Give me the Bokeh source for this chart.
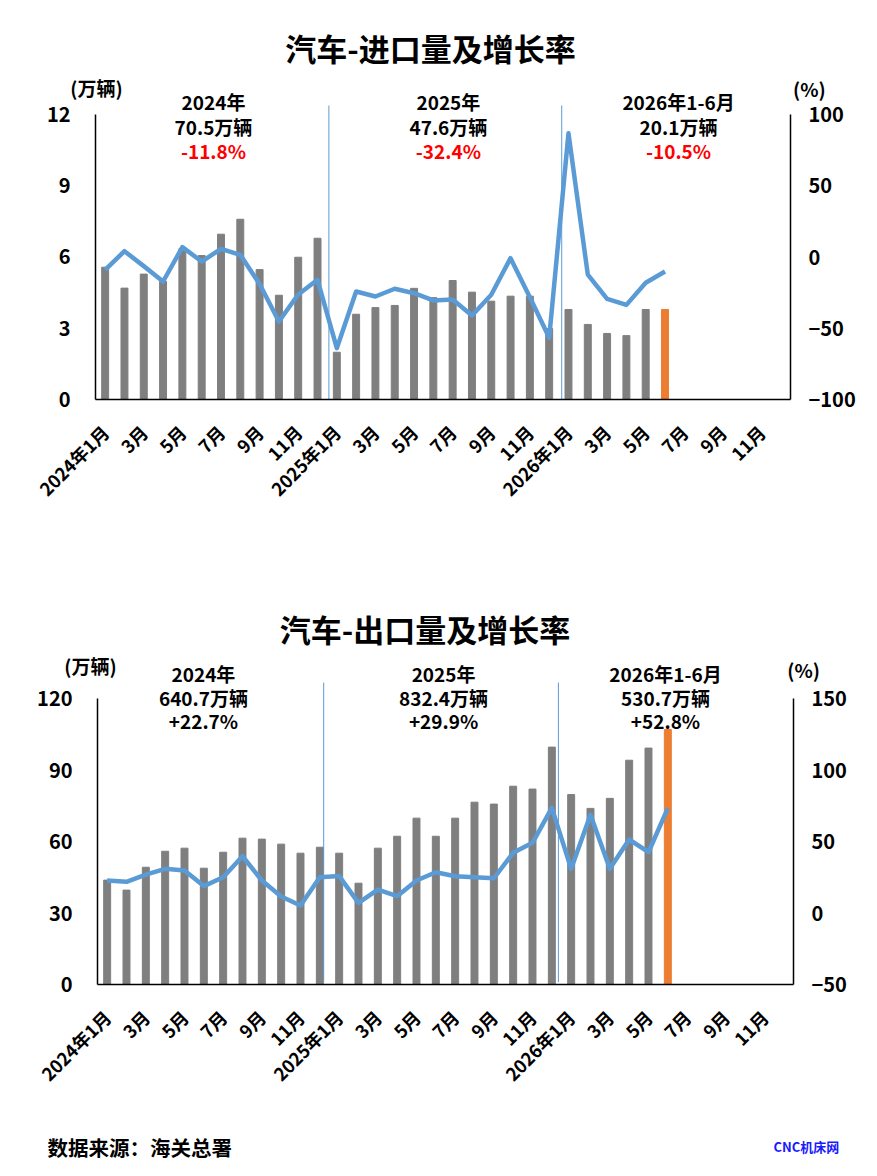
import math

from bokeh.embed import file_html
from bokeh.layouts import column
from bokeh.models import (ColumnDataSource, FixedTicker, Label, LinearAxis,
                          Range1d)
from bokeh.plotting import figure
from bokeh.resources import INLINE

FONT = "Noto Sans CJK SC"
BAR_GREY = "#7f7f7f"
BAR_ORANGE = "#ed7d31"
LINE_BLUE = "#5b9bd5"

# Month labels, 2024-01 .. 2026-12 (every other month is shown)
years = [2024, 2025, 2026]
months = [f"{y}年1月" if m == 1 else f"{m}月" for y in years for m in range(1, 13)]

# Imports: volume (万辆) and year-on-year growth (%)
imp_volume = [5.57, 4.69, 5.28, 4.97, 6.35, 6.06, 6.96, 7.59, 5.47, 4.39, 5.99, 6.79,
              1.99, 3.59, 3.87, 3.96, 4.68, 4.29, 5.01, 4.52, 4.14, 4.35, 4.35, 2.99,
              3.79, 3.16, 2.78, 2.69, 3.79, 3.79]
imp_yoy = [-9.0, 4.1, -6.4, -17.2, 6.9, -3.2, 5.7, 1.5, -19.0, -45.3, -26.3, -16.0,
           -64.0, -24.2, -27.7, -22.3, -25.4, -30.5, -29.8, -41.0, -26.5, -0.8, -28.2, -56.7,
           86.8, -12.3, -29.4, -33.6, -18.1, -10.2]

# Exports: volume (万辆) and year-on-year growth (%)
exp_volume = [43.8, 39.6, 49.2, 55.9, 57.2, 48.8, 55.5, 61.4, 61.0, 58.9, 55.1, 57.6,
              55.1, 42.5, 57.2, 62.2, 69.8, 62.2, 69.8, 76.5, 75.7, 83.2, 82.0, 99.6,
              79.7, 73.9, 78.1, 94.1, 99.2, 107.0]
exp_yoy = [22.7, 21.8, 26.9, 30.9, 29.7, 18.8, 25.0, 39.7, 22.7, 11.5, 5.2, 25.0,
           25.8, 7.1, 16.4, 11.8, 22.7, 28.5, 25.7, 25.0, 24.3, 42.1, 49.1, 73.5,
           30.9, 68.7, 30.9, 51.4, 42.5, 73.3]

# Yearly summaries
periods = ["2024年", "2025年", "2026年1-6月"]
imp_totals = ["70.5万辆", "47.6万辆", "20.1万辆"]
imp_growth = ["-11.8%", "-32.4%", "-10.5%"]
exp_totals = ["640.7万辆", "832.4万辆", "530.7万辆"]
exp_growth = ["+22.7%", "+29.9%", "+52.8%"]


def add_label(p, x, y, text, size, color="black", align="center"):
    p.add_layout(Label(x=x, y=y, text=text, text_font=FONT, text_font_size=size,
                       text_font_style="bold", text_color=color,
                       text_align=align, text_baseline="middle"))


def style_axis(axis, size):
    axis.axis_line_color = "black"
    axis.axis_line_width = 1.5
    axis.major_tick_line_color = None
    axis.minor_tick_line_color = None
    axis.major_tick_out = 0
    axis.major_tick_in = 0
    axis.major_label_text_font = FONT
    axis.major_label_text_font_style = "bold"
    axis.major_label_text_font_size = size
    axis.major_label_text_color = "black"


def make_chart(title, volume, yoy, totals, growth, growth_color, cfg):
    # the frame fills the whole figure; all axes are pinned at the plot edges
    p = figure(width=870, height=cfg["height"], title=None,
               x_range=Range1d(*cfg["xr"]), y_range=Range1d(*cfg["yr"]),
               min_border=0, tools="", toolbar_location=None, output_backend="svg")
    p.outline_line_color = None
    p.grid.grid_line_color = None
    p.extra_y_ranges = {"yoy": Range1d(*cfg["rr"])}

    n = len(volume)
    src = ColumnDataSource(dict(
        x=list(range(n)), vol=volume, yoy=yoy,
        color=[BAR_ORANGE if i == n - 1 else BAR_GREY for i in range(n)]))

    p.vbar(x="x", top="vol", width=0.36, color="color", source=src)
    p.line("x", "yoy", source=src, color=LINE_BLUE, line_width=4.5,
           line_join="round", y_range_name="yoy")

    # year separators
    p.segment(x0=cfg["breaks"], x1=cfg["breaks"], y0=cfg["sep"][0], y1=cfg["sep"][1],
              line_color=LINE_BLUE, line_width=1)

    # axes
    xaxis = p.xaxis[0]
    style_axis(xaxis, "18px")
    xaxis.fixed_location = 0
    xaxis.bounds = (-0.5, 35.5)
    xaxis.ticker = FixedTicker(ticks=list(range(0, 36, 2)))
    xaxis.major_label_overrides = {i: months[i] for i in range(0, 36, 2)}
    xaxis.major_label_orientation = math.pi / 4
    xaxis.major_label_standoff = 29

    yaxis = p.yaxis[0]
    style_axis(yaxis, "20px")
    yaxis.fixed_location = -0.5
    yaxis.ticker = FixedTicker(ticks=cfg["lticks"])
    yaxis.bounds = (cfg["lticks"][0], cfg["lticks"][-1])
    yaxis.major_label_standoff = 25

    raxis = LinearAxis(y_range_name="yoy", ticker=FixedTicker(ticks=cfg["rticks"]),
                       bounds=(cfg["rticks"][0], cfg["rticks"][-1]), fixed_location=35.5)
    style_axis(raxis, "20px")
    raxis.major_label_standoff = 18
    p.add_layout(raxis, "right")

    # texts
    add_label(p, cfg["title_xy"][0], cfg["title_xy"][1], title, "31px")
    add_label(p, cfg["unit_l"][0], cfg["unit_l"][1], "(万辆)", "19px")
    add_label(p, cfg["unit_r"][0], cfg["unit_r"][1], "(%)", "19px")
    for cx, period, total, g in zip(cfg["groups"], periods, totals, growth):
        add_label(p, cx, cfg["rows"][0], period, "19px")
        add_label(p, cx, cfg["rows"][1], total, "19px")
        add_label(p, cx, cfg["rows"][2], g, "19px", color=growth_color)
    return p


top_cfg = dict(height=578, xr=(-5.421, 39.644), yr=(-7.537, 16.8),
               rr=(-225.61, 180.0), lticks=[0, 3, 6, 9, 12],
               rticks=[-100, -50, 0, 50, 100], breaks=[11.59, 23.65], sep=(0, 12.38),
               title_xy=(16.85, 14.82), unit_l=(-0.45, 13.14), unit_r=(36.48, 13.1),
               groups=[5.61, 17.78, 29.70], rows=[12.55, 11.49, 10.48])

bottom_cfg = dict(height=542, xr=(-5.517, 39.483), yr=(-57.06, 170.35),
                  rr=(-145.10, 233.92), lticks=[0, 30, 60, 90, 120],
                  rticks=[-50, 0, 50, 100, 150], breaks=[11.2, 23.34], sep=(1, 126.7),
                  title_xy=(16.44, 149.4), unit_l=(-0.86, 133.8), unit_r=(36.02, 132.2),
                  groups=[4.98, 17.40, 28.88], rows=[130.6, 120.5, 110.8])

p1 = make_chart("汽车-进口量及增长率", imp_volume, imp_yoy, imp_totals, imp_growth,
                "#ff0000", top_cfg)
p2 = make_chart("汽车-出口量及增长率", exp_volume, exp_yoy, exp_totals, exp_growth,
                "black", bottom_cfg)

footer = figure(width=870, height=52, x_range=Range1d(0, 870), y_range=Range1d(0, 52),
                min_border=0, tools="", toolbar_location=None, output_backend="svg")
footer.outline_line_color = None
footer.grid.grid_line_color = None
footer.axis.visible = False
add_label(footer, 47, 26, "数据来源：海关总署", "20.5px", align="left")
add_label(footer, 773, 26, "CNC机床网", "13px", color="#1a1aff", align="left")

layout = column(p1, p2, footer, spacing=0)
open("out.html", "w").write(file_html(layout, INLINE))
